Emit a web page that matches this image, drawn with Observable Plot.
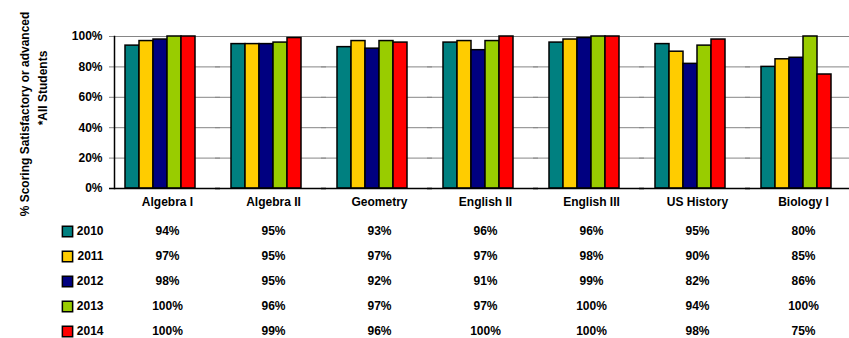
<!DOCTYPE html>
<html><head><meta charset="utf-8">
<script src="https://cdn.jsdelivr.net/npm/d3@7"></script>
<script src="https://cdn.jsdelivr.net/npm/@observablehq/plot@0.6"></script>
<style>
body{margin:0;background:#fff;overflow:hidden}
#wrap{position:relative;width:849px;height:338px}
#wrap svg{display:block}
.ytitle{position:absolute;white-space:nowrap;font-family:'Liberation Sans',Arial,sans-serif;font-size:12px;font-weight:bold;color:#000;line-height:14px;transform:translate(-50%,-50%) rotate(-90deg)}
</style></head><body><div id="wrap"><div id="chart"></div><div id="table"></div></div>
<script>
const subjects = ["Algebra I","Algebra II","Geometry","English II","English III","US History","Biology I"];
const years = ["2010","2011","2012","2013","2014"];
const colors = ["#008080","#FFCC00","#000080","#99CC00","#FF0000"];
const v2010 = [94,95,93,96,96,95,80];
const v2011 = [97,95,97,97,98,90,85];
const v2012 = [98,95,92,91,99,82,86];
const v2013 = [100,96,97,97,100,94,100];
const v2014 = [100,99,96,100,100,98,75];
const yTicks = [0,20,40,60,80,100];
const yTitleLines = ["% Scoring Satisfactory or advanced", "*All Students"];

const series = [v2010, v2011, v2012, v2013, v2014];
const data = years.flatMap((y, i) => subjects.map((s, j) => ({subject: s, year: y, value: series[i][j]})));

const css = "font-family: 'Liberation Sans', Arial, sans-serif; font-size: 12px; font-weight: bold; color: black; background: white;";

const chart = Plot.plot({
  width: 849, height: 213,
  marginLeft: 112, marginRight: -8.5, marginTop: 36, marginBottom: 25,
  style: css,
  fx: {domain: subjects, padding: 0, label: null, axis: "bottom", tickSize: 0, tickPadding: 9},
  x: {domain: years, paddingInner: 0, paddingOuter: 1.224, align: 0.296, axis: null},
  y: {domain: [0, 100], ticks: yTicks, tickFormat: d => d + "%", tickSize: 0, tickPadding: 12, label: null},
  color: {domain: years, range: colors},
  marks: [
    Plot.ruleY(yTicks.filter(t => t > 0), {stroke: "#868686", strokeWidth: 1, insetLeft: -5}),
    Plot.barY(data, {fx: "subject", x: "year", y: "value", fill: "year", stroke: "black", strokeWidth: 1.5}),
    Plot.ruleY([0], {stroke: "black", strokeWidth: 1.5, insetLeft: -5}),
    Plot.frame({anchor: "left", stroke: "black", strokeWidth: 1.5, facet: "super"})
  ]
});
document.getElementById("chart").append(chart);

const table = Plot.plot({
  width: 849, height: 125,
  marginLeft: 112, marginRight: -8.5, marginTop: 16, marginBottom: 6,
  style: css,
  x: {domain: subjects, type: "band", padding: 0, axis: null},
  y: {domain: years, type: "point", padding: 0, tickSize: 0, tickPadding: 9, label: null},
  color: {domain: years, range: colors},
  marks: [
    Plot.text(data, {x: "subject", y: "year", text: d => d.value + "%"}),
    Plot.dot(years, {y: d => d, frameAnchor: "left", dx: -45, symbol: "square", r: 5.8, fill: d => d, stroke: "black", strokeWidth: 1.5})
  ]
});
document.getElementById("table").append(table);

// rotated y-axis title, two lines
const titlePos = [[25, 114], [43, 88]];
yTitleLines.forEach((t, i) => {
  const d = document.createElement("div");
  d.className = "ytitle";
  d.textContent = t;
  d.style.left = titlePos[i][0] + "px";
  d.style.top = titlePos[i][1] + "px";
  document.getElementById("wrap").append(d);
});
</script></body></html>
